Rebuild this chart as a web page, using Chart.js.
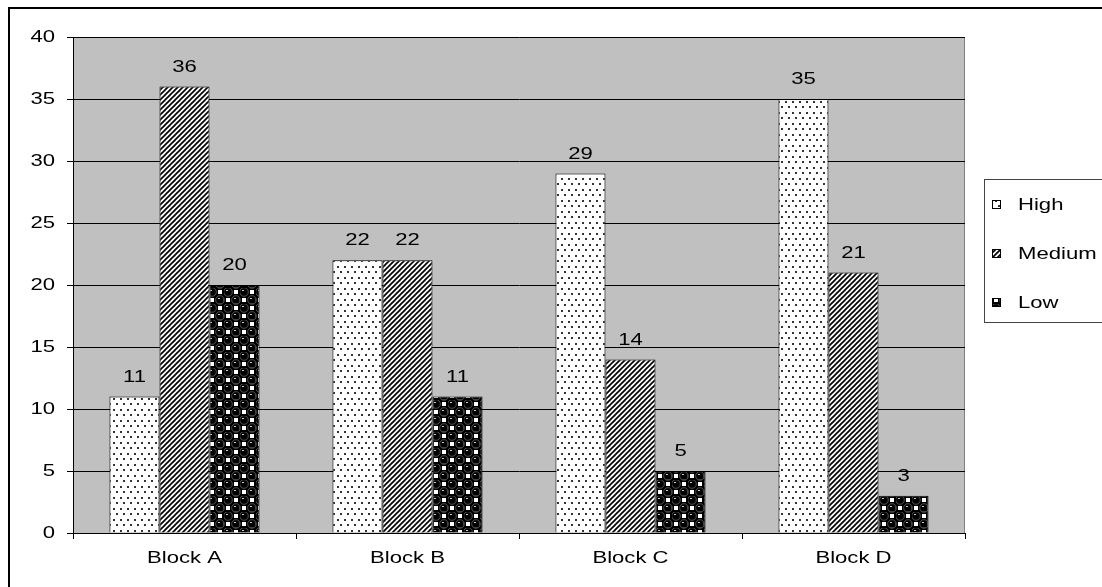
<!DOCTYPE html>
<html>
<head>
<meta charset="utf-8">
<title>Block</title>
<script src="https://cdn.jsdelivr.net/npm/chart.js@4/dist/chart.umd.min.js"></script>
<style>
  html,body{margin:0;padding:0;background:#fff;}
  #cont{width:1102px;height:587px;position:relative;}
</style>
</head>
<body>
<div id="cont"><canvas id="bar-chart" width="1102" height="587"></canvas></div>
<script>
var categorias = ["Block A", "Block B", "Block C", "Block D"];
var series = ["High", "Medium", "Low"];
var high = [11, 22, 29, 35];
var medium = [36, 22, 14, 21];
var low = [20, 11, 5, 3];
var ticksY = [0, 5, 10, 15, 20, 25, 30, 35, 40];

var fuente = "17px 'Liberation Sans', Arial, sans-serif";
var anchoTexto = 1.3;   // letra ensanchada en horizontal

// texto ensanchado: se escala solo en x
function texto(ctx, txt, x, y, alin){
  ctx.save();
  ctx.translate(x, y);
  ctx.scale(anchoTexto, 1);
  ctx.font = fuente;
  ctx.fillStyle = "#000";
  ctx.textAlign = alin;
  ctx.textBaseline = "middle";
  ctx.fillText(txt, 0, 0);
  ctx.restore();
}

// tramas de relleno (puntos, rayas, bolas)
function tramaPuntos(ctx){
  var c = document.createElement("canvas");
  c.width = 7; c.height = 11;
  var g = c.getContext("2d");
  g.fillStyle = "#fff"; g.fillRect(0, 0, 7, 11);
  g.fillStyle = "#333";
  g.fillRect(1, 2, 2, 2);
  g.fillRect(4, 7, 2, 2);
  return ctx.createPattern(c, "repeat");
}
function tramaRayas(ctx){
  var c = document.createElement("canvas");
  c.width = 5; c.height = 5;
  var g = c.getContext("2d");
  g.fillStyle = "#fff"; g.fillRect(0, 0, 5, 5);
  g.strokeStyle = "#000"; g.lineWidth = 1.7;
  for(var k=-5;k<=5;k+=5){
    g.beginPath(); g.moveTo(-1+k, 6); g.lineTo(6+k, -1); g.stroke();
  }
  return ctx.createPattern(c, "repeat");
}
function tramaBolas(ctx){
  var c = document.createElement("canvas");
  c.width = 16; c.height = 16;
  var g = c.getContext("2d");
  g.fillStyle = "#000"; g.fillRect(0, 0, 16, 16);
  g.fillStyle = "#fff";
  g.fillRect(10, 2, 4, 4);
  g.fillRect(2, 10, 4, 4);
  [[4,4],[12,12],[-4,12],[12,-4],[20,12],[12,20]].forEach(function(p){
    g.beginPath(); g.arc(p[0], p[1], 4.3, 0, Math.PI*2);
    g.fillStyle = "#000"; g.fill();
    g.strokeStyle = "#666"; g.lineWidth = 0.8; g.stroke();
    g.fillStyle = "#ccc";
    g.fillRect(p[0]-2, p[1]-2, 2, 1);
  });
  return ctx.createPattern(c, "repeat");
}

var ctx0 = document.getElementById("bar-chart").getContext("2d");
var rellenos = [tramaPuntos(ctx0), tramaRayas(ctx0), tramaBolas(ctx0)];
var valores = [high, medium, low];

var pluginTexto = {
  id: "texto",
  beforeDraw: function(chart){
    var ctx = chart.ctx, a = chart.chartArea;
    ctx.save();
    ctx.fillStyle = "#fff";
    ctx.fillRect(0, 0, chart.width, chart.height);
    // marco exterior
    ctx.strokeStyle = "#000"; ctx.lineWidth = 2;
    ctx.strokeRect(9, 8, 1300, 800);
    // area de trazado
    ctx.fillStyle = "#c0c0c0";
    ctx.fillRect(a.left, a.top, a.right - a.left, a.bottom - a.top);
    ctx.strokeStyle = "#808080"; ctx.lineWidth = 1;
    ctx.strokeRect(a.left + 0.5, a.top + 0.5, a.right - a.left - 1, a.bottom - a.top);
    ctx.restore();
  },
  afterDatasetsDraw: function(chart){
    var ctx = chart.ctx;
    chart.data.datasets.forEach(function(ds, i){
      chart.getDatasetMeta(i).data.forEach(function(bar, j){
        texto(ctx, String(ds.data[j]), bar.x, bar.y - 19.5, "center");
      });
    });
  },
  afterDraw: function(chart){
    var ctx = chart.ctx;
    var sx = chart.scales.x, sy = chart.scales.y;
    // etiquetas de los ejes
    sy.ticks.forEach(function(t){
      texto(ctx, String(t.value), 55, sy.getPixelForValue(t.value) + 0.5, "right");
    });
    chart.data.labels.forEach(function(l, i){
      texto(ctx, l, sx.getPixelForValue(i), 558, "center");
    });
    // leyenda
    ctx.save();
    ctx.strokeStyle = "#444"; ctx.lineWidth = 1;
    ctx.strokeRect(984.5, 179.5, 300, 143);
    var ys = [204, 253, 302];
    chart.data.datasets.forEach(function(ds, i){
      ctx.fillStyle = ds.backgroundColor;
      ctx.fillRect(992, ys[i] - 4, 9, 9);
      ctx.strokeStyle = "#000";
      ctx.strokeRect(992.5, ys[i] - 3.5, 8, 8);
      texto(ctx, ds.label, 1018, ys[i] + 1, "left");
    });
    ctx.restore();
  }
};

var datasets = [];
for(var i=0;i<series.length;i++){
  datasets.push({
    label: series[i],
    data: valores[i],
    backgroundColor: rellenos[i],
    borderColor: "#000",
    borderWidth: 1,
    borderSkipped: "bottom",
    categoryPercentage: 0.673,
    barPercentage: 1
  });
}

var barra = new Chart(ctx0, {
  type: "bar",
  data: { labels: categorias, datasets: datasets },
  plugins: [pluginTexto],
  options: {
    responsive: false,
    animation: false,
    layout: { padding: { left: 0, top: 37, right: 137, bottom: 0 } },
    plugins: {
      legend: { display: false },
      tooltip: { enabled: false },
      title: { display: false }
    },
    scales: {
      x: {
        grid: { drawOnChartArea: false, drawTicks: true, tickLength: 6, color: "#000", offset: true },
        border: { color: "#000", width: 1 },
        ticks: { display: false },
        afterFit: function(s){ s.height = 54; }
      },
      y: {
        min: 0, max: 40,
        afterBuildTicks: function(s){ s.ticks = ticksY.map(function(v){ return { value: v }; }); },
        grid: { color: "#000", lineWidth: 1, tickLength: 6 },
        border: { color: "#000", width: 1 },
        ticks: { display: false },
        afterFit: function(s){ s.width = 73; }
      }
    }
  }
});
</script>
</body>
</html>
